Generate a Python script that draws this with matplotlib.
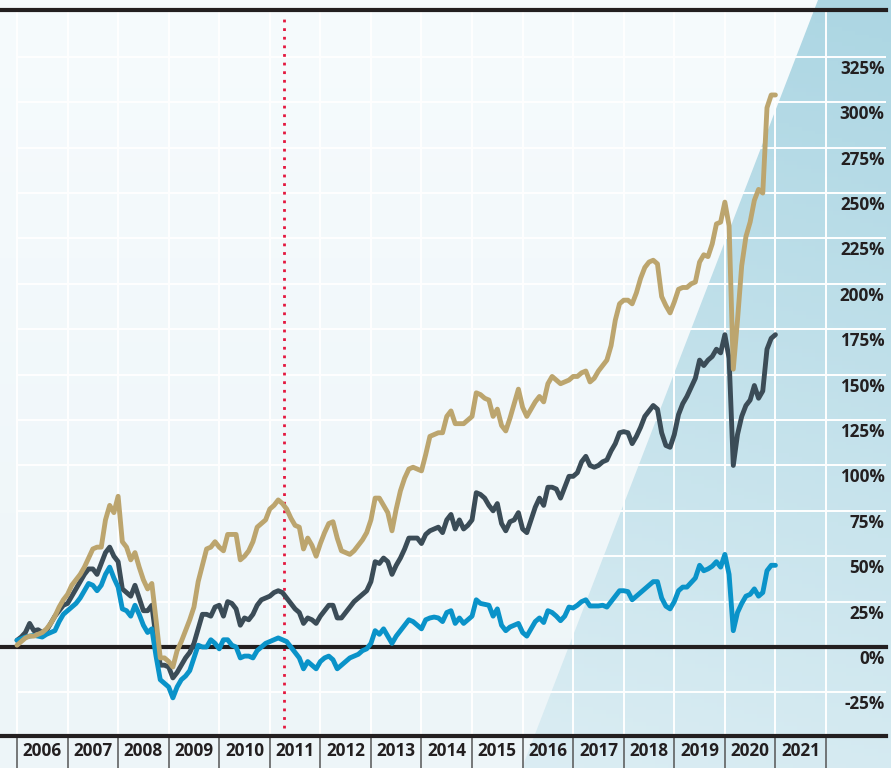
import numpy as np
import matplotlib
matplotlib.use("Agg")
import matplotlib.pyplot as plt
from matplotlib.patches import Polygon
from matplotlib.colors import LinearSegmentedColormap

plt.rcParams['font.family'] = ['Open Sans', 'DejaVu Sans']

# monthly values (%), Jan 2006 .. Jan 2021
gold = [1, 3, 5, 6, 6, 7, 8, 10, 13, 17, 22, 26,
        29, 34, 37, 40, 44, 49, 54, 55, 55, 70, 78, 74,
        83, 58, 55, 48, 52, 44, 37, 32, 35, 15, -6, -6,
        -8, -11, -2, 3, 9, 15, 22, 36, 45, 54, 55, 58,
        55, 53, 62, 62, 62, 48, 50, 53, 58, 66, 68, 70,
        76, 78, 81, 79, 76, 71, 67, 66, 54, 60, 56, 50,
        57, 63, 68, 69, 60, 53, 52, 51, 53, 56, 59, 63,
        70, 82, 82, 78, 74, 64, 76, 86, 93, 98, 99, 98,
        97, 106, 116, 117, 118, 118, 127, 130, 123, 123, 123, 125,
        127, 140, 139, 137, 136, 127, 131, 122, 119, 126, 134, 142,
        132, 127, 131, 135, 138, 135, 145, 149, 147, 145, 146, 147,
        149, 149, 151, 152, 146, 148, 152, 155, 158, 166, 180, 189,
        191, 191, 189, 195, 203, 209, 212, 213, 211, 193, 188, 184,
        190, 197, 198, 198, 200, 201, 212, 216, 215, 222, 233, 234,
        245, 232, 153, 180, 210, 226, 234, 246, 252, 250, 297, 304,
        304]
slate = [3.7, 5.5, 8, 13, 9, 9.5, 8, 9, 13, 17, 20, 23,
         24, 28, 32, 36, 40, 43, 43, 40, 46, 52, 55, 50,
         47, 32, 30, 28, 34, 27, 20, 20, 23, 5, -10, -10,
         -11, -17, -14, -10, -6, -3, 2, 10, 18, 18, 17, 22,
         23, 17, 25, 24, 21, 12, 16, 15, 18, 23, 26, 27,
         28, 30, 31, 30, 27, 24, 21, 19, 13, 16, 15, 13,
         17, 20, 23, 23, 16, 16, 19, 22, 25, 27, 29, 31,
         36, 47, 46, 49, 47, 40, 45, 49, 54, 60, 60, 60,
         57, 62, 64, 65, 66, 63, 70, 73, 65, 70, 65, 67,
         70, 85, 84, 82, 78, 75, 79, 68, 64, 69, 70, 74,
         65, 63, 70, 77, 82, 78, 88, 88, 87, 82, 88, 94,
         94, 96, 102, 105, 100, 99, 100, 102, 103, 108, 112, 118,
         118.6, 118, 112, 116, 121, 127, 130, 133, 131, 118, 111, 110,
         117, 128, 134, 138, 143, 148, 158, 155, 158, 160, 164, 162,
         172, 159, 100, 117, 127, 133, 136, 144, 137, 141, 164, 170,
         172]
blue = [3.7, 4.5, 5.5, 6, 6.4, 6, 5.5, 7, 8, 9, 14, 18,
        20, 22, 24, 27, 31, 35, 34, 31, 34, 40, 44, 38,
        33, 21, 20, 17, 23, 18, 12, 8, 10, -5, -18, -20,
        -22, -28, -22, -18, -16, -13, -6, 1, 0, 0, 4, 2,
        -1, 4, 4, 1, 0, -6, -5, -5, -6, -2, 0, 2,
        3, 4, 5, 4, 3, 0, -3, -6, -12, -8, -10, -12,
        -8, -6, -5, -7, -12, -10, -8, -6, -5, -4, -2, -1,
        2, 9, 7, 10, 6, 2, 6, 9, 12, 15, 14, 12,
        10, 15, 16, 16.5, 16, 14, 19, 20, 13, 16, 13, 15,
        17, 26, 24, 23.5, 23, 17, 21, 12, 9, 11, 12, 13,
        8, 6, 10, 14, 16, 13.5, 20, 19, 17, 14.5, 17, 22,
        21.5, 23, 25, 26, 22.6, 22.6, 22.6, 23, 22, 25, 28, 31,
        31, 30.5, 26, 28, 30, 32, 34, 36, 36, 27, 22.5, 21,
        25, 31, 33, 33, 35.5, 38, 45, 42, 43, 44.5, 47, 44,
        51, 40, 9, 19, 24, 28, 29, 32, 28, 30, 42, 45,
        45]

years = list(range(2006, 2022))
y_ticks = list(range(-25, 326, 25))
marker_year = 2011.28

t = 2006 + np.arange(len(gold)) / 12.0

ink = '#231f20'
fig = plt.figure(figsize=(8.91, 7.68), dpi=100)

# background: pale panel with a blue wedge on the right
bg = fig.add_axes([0, 0, 1, 1])
bg.set_xlim(0, 891)
bg.set_ylim(768, 0)
bg.axis('off')
pale = LinearSegmentedColormap.from_list('pale', ['#f6fbfd', '#edf5f8'])
bg.imshow(np.linspace(0, 1, 256).reshape(-1, 1), cmap=pale, aspect='auto',
          extent=(0, 891, 768, 0))
gy, gx = np.mgrid[0:1:200j, 0:1:200j]
shade = 0.75 * gy + 0.25 * (1 - gx)
wedge_cm = LinearSegmentedColormap.from_list('wedge', ['#acd6e3', '#e3f1f6'])
im = bg.imshow(shade, cmap=wedge_cm, aspect='auto', extent=(0, 891, 768, 0))
wedge = Polygon([(818, 0), (891, 0), (891, 768), (522, 768)], closed=True,
                facecolor='none', edgecolor='none')
bg.add_patch(wedge)
im.set_clip_path(wedge)

ax = fig.add_axes([0, 32 / 768, 886 / 891, 726 / 768])
ax.patch.set_alpha(0)
x0, x1 = 2005.664, 2023.187
y0, y1 = -49.0, 350.8
ax.set_xlim(x0, x1)
ax.set_ylim(y0, y1)
for s in ax.spines.values():
    s.set_visible(False)

# grid
ax.hlines(y_ticks, 2006, x1, colors='white', lw=1.4, zorder=1)
ax.vlines(years + [2022], y0, y1, colors='white', lw=1.4, zorder=1)

# frame lines
for yv in (y1, 0, y0):
    ax.axhline(yv, color=ink, lw=3, zorder=4, clip_on=False)

style = dict(lw=3.5, solid_capstyle='round', solid_joinstyle='round')
ax.plot(t, slate, color='#3b4c57', zorder=5, **style)
ax.plot(t, blue, color='#0a93c9', zorder=6, **style)
ax.plot(t, gold, color='#bca56e', zorder=7, **style)

ax.vlines(marker_year, -44.6, 345.8, colors='#e4173e', lw=2,
          linestyles=(0, (1, 2.1)), zorder=3)

# x axis: year separators and labels
ax.set_xticks(years + [2022])
ax.set_xticklabels([])
ax.set_xticks([y + 0.5 for y in years], minor=True)
ax.set_xticklabels([str(y) for y in years], minor=True,
                   fontsize=12.3, fontweight='bold', color=ink)
ax.tick_params(axis='x', which='major', length=23, width=1.1, color='#555555', direction='out')
ax.tick_params(axis='x', which='minor', length=0, pad=4.5)
ax.set_yticks([])

for v in y_ticks:
    ax.annotate(f"{v}%", xy=(1, v), xycoords=('axes fraction', 'data'),
                xytext=(-1, -8.6), textcoords='offset points',
                ha='right', va='center', fontsize=12.3, fontweight='bold', color=ink)

fig.savefig('out.png', dpi=100)
